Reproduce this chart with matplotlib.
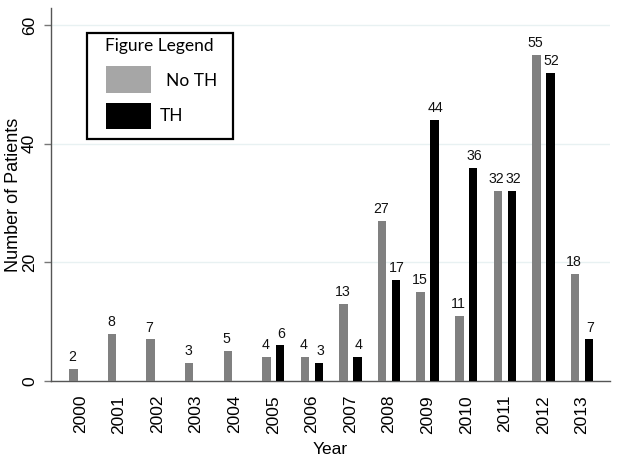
import matplotlib
matplotlib.use("Agg")
import matplotlib.pyplot as plt
from matplotlib.patches import Rectangle
import numpy as np

years = [2000, 2001, 2002, 2003, 2004, 2005, 2006, 2007, 2008, 2009, 2010, 2011, 2012, 2013]
no_th = [2, 8, 7, 3, 5, 4, 4, 13, 27, 15, 11, 32, 55, 18]
th = [None, None, None, None, None, 6, 3, 4, 17, 44, 36, 32, 52, 7]
y_ticks = [0, 20, 40, 60]
legend_title = "Figure Legend"
legend_labels = ["No TH", "TH"]

plt.rcParams['font.family'] = ['Liberation Sans', 'DejaVu Sans']

W, H = 620, 463
fig = plt.figure(figsize=(6.2, 4.63), dpi=100)
ax = fig.add_axes([51 / W, 1 - 381 / H, (610 - 51) / W, (381 - 8) / H])

x = np.arange(len(years))
off = 0.18
bw = 0.22
gray = '#808080'
black = '#000000'

th_vals = [np.nan if v is None else v for v in th]
ax.bar(x - off, no_th, width=bw, color=gray, zorder=3)
ax.bar(x + off, th_vals, width=bw, color=black, zorder=3)

for xi, v in zip(x, no_th):
    ax.annotate(str(v), (xi - off, v), xytext=(-0.8, 3.5), textcoords='offset points',
                ha='center', va='bottom', fontsize=10.2, color='#111111')
for xi, v in zip(x, th):
    if v is None:
        continue
    ax.annotate(str(v), (xi + off, v), xytext=(0.8, 3.5), textcoords='offset points',
                ha='center', va='bottom', fontsize=10.2, color='#111111')

ax.set_xlim(-0.76, len(years) - 1 + 0.725)
ax.set_ylim(0, 62.9)
ax.set_xticks(x)
ax.set_xticklabels([str(y) for y in years], rotation=90, fontsize=12.5)
ax.set_yticks(y_ticks)
ax.set_yticklabels([str(t) for t in y_ticks], rotation=90, va='center', fontsize=12.5)
ax.tick_params(axis='x', length=0, pad=10)
ax.tick_params(axis='y', length=5, width=1, color='#777777', pad=5)
ax.yaxis.grid(True, color='#e8f1f2', linewidth=1, zorder=0)
ax.set_axisbelow(True)

for s in ['top', 'right']:
    ax.spines[s].set_visible(False)
ax.spines['left'].set_color('#555555')
ax.spines['bottom'].set_color('#555555')
ax.spines['left'].set_linewidth(1)
ax.spines['bottom'].set_linewidth(1)

ax.set_xlabel("Year", fontsize=12.5, labelpad=6)
ax.set_ylabel("Number of Patients", fontsize=13)
ax.yaxis.set_label_coords((22 - 51) / (610 - 51), 0.5)

# manual legend in pixel coordinates
def fx(px):
    return px / W

def fy(py):
    return 1 - py / H

fig.patches.append(Rectangle((fx(87), fy(139)), fx(233) - fx(87), fy(33) - fy(139),
                             transform=fig.transFigure, facecolor='white',
                             edgecolor='black', linewidth=1.6, zorder=5))
fig.text(fx(159), fy(46), legend_title, ha='center', va='center', fontsize=12.5,
         family=['Lato', 'DejaVu Sans'], zorder=6)
fig.patches.append(Rectangle((fx(106), fy(93)), fx(151) - fx(106), fy(66) - fy(93),
                             transform=fig.transFigure, facecolor='#a6a6a6',
                             edgecolor='none', zorder=6))
fig.patches.append(Rectangle((fx(106), fy(129)), fx(151) - fx(106), fy(103) - fy(129),
                             transform=fig.transFigure, facecolor='black',
                             edgecolor='none', zorder=6))
fig.text(fx(166), fy(81), legend_labels[0], ha='left', va='center', fontsize=12.5,
         family=['Lato', 'DejaVu Sans'], zorder=6)
fig.text(fx(160), fy(116), legend_labels[1], ha='left', va='center', fontsize=12.5,
         family=['Lato', 'DejaVu Sans'], zorder=6)

fig.savefig("out.png", dpi=100, facecolor='white')
